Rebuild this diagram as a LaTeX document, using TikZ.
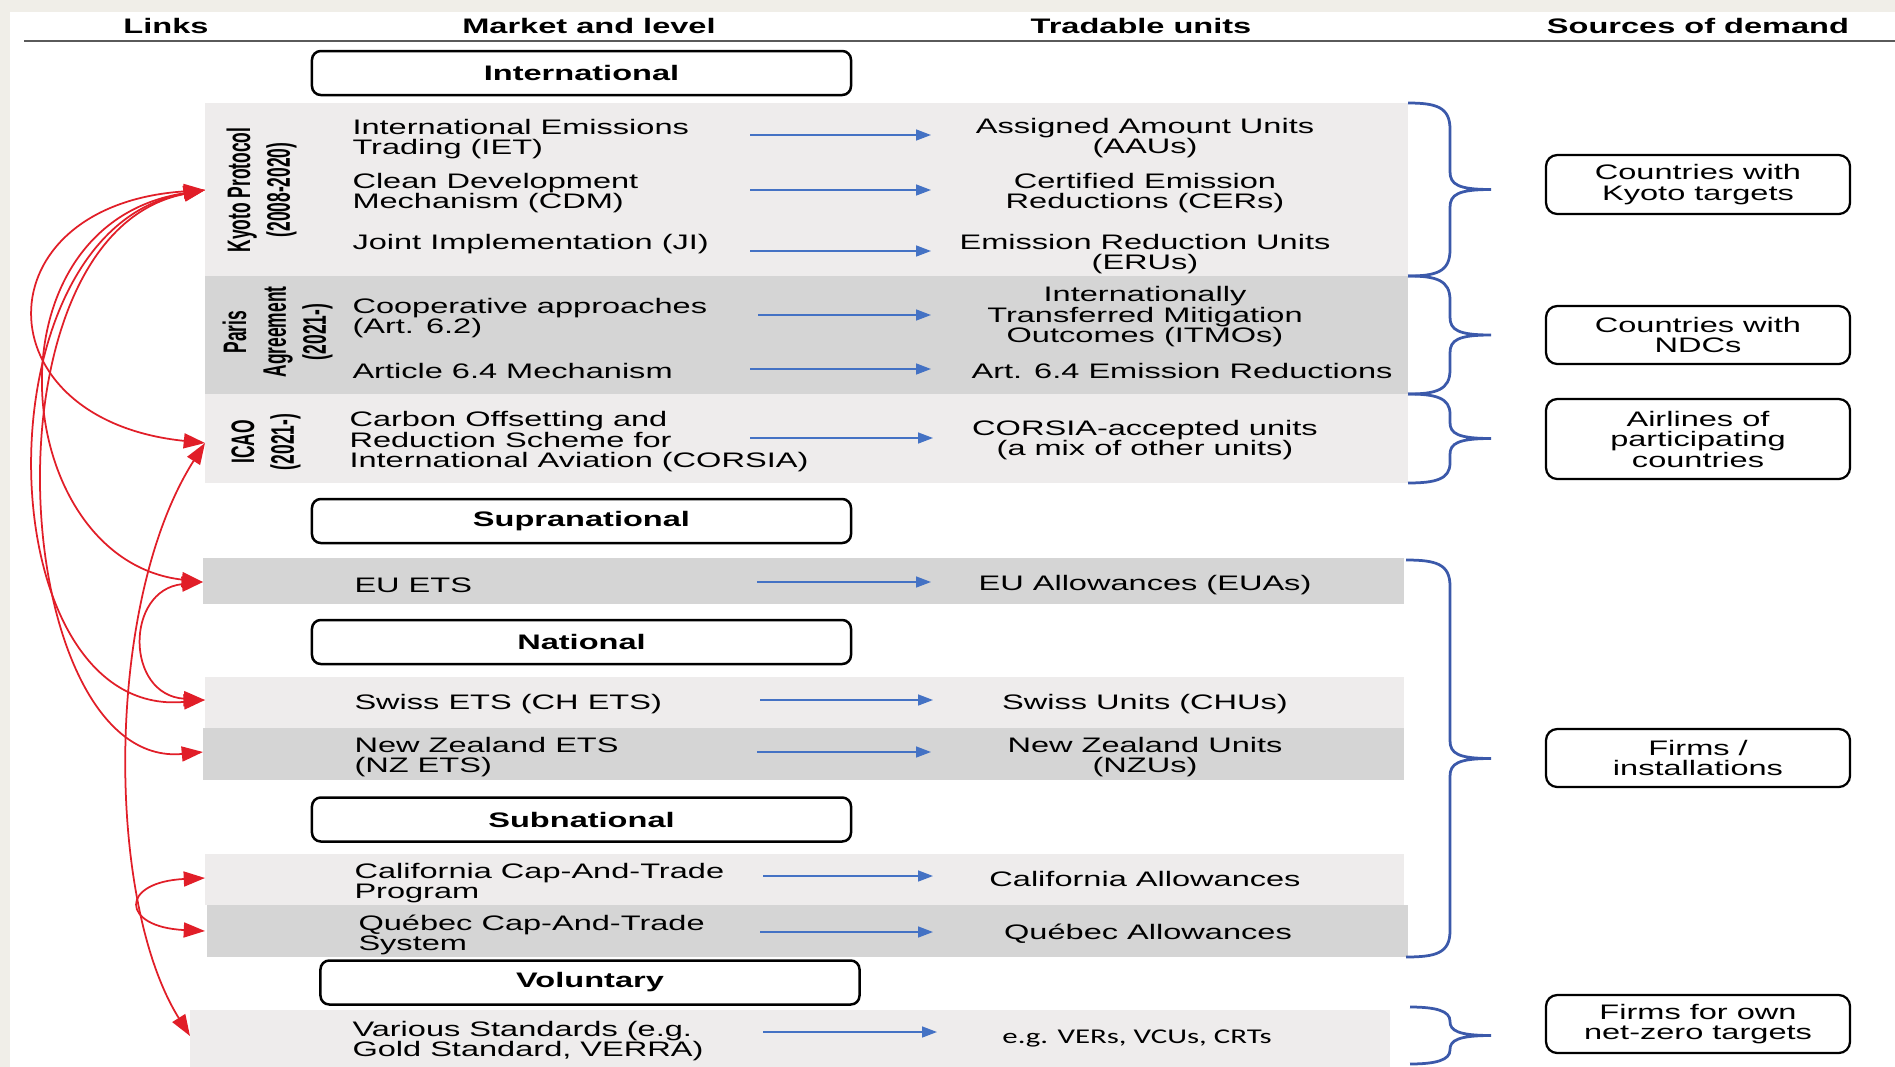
\documentclass[tikz,border=0pt]{standalone}
\usepackage{fontspec}
\setmainfont{Liberation Sans}[FakeStretch=1.55]
\newfontfamily\rotfont{Liberation Sans}[FakeStretch=0.83]
\newfontfamily\califont{Carlito}[FakeStretch=1.47]
\usetikzlibrary{arrows.meta}
\definecolor{beige}{RGB}{240,238,232}
\definecolor{bandlight}{RGB}{238,236,236}
\definecolor{banddark}{RGB}{213,213,213}
\definecolor{arrblue}{RGB}{68,114,196}
\definecolor{brblue}{RGB}{59,89,170}
\definecolor{linkred}{RGB}{225,30,40}
\definecolor{rulegray}{RGB}{90,90,90}
% brace drawn by hand: #1 top y, #2 bottom y, #3 end radius, #4 tip radius, #5 left x
\newcommand\mybrace[5]{%
  \pgfmathsetmacro\bym{(#1+#2)/2}%
  \draw[brc] (#5,#1) .. controls (1436,#1) and (1450,#1+4) .. (1450,#1+#3)
    -- (1450,\bym-#4) .. controls (1450,\bym-5) and (1458,\bym) .. (1491,\bym)
    .. controls (1458,\bym) and (1450,\bym+5) .. (1450,\bym+#4)
    -- (1450,#2-#3) .. controls (1450,#2-4) and (1436,#2) .. (#5,#2);}
\begin{document}
\begin{tikzpicture}[x=0.4pt,y=-0.4pt,
  every node/.style={font=\fontsize{8.4}{8.2}\selectfont, inner sep=0pt},
  hdr/.style={font=\fontsize{8.4}{8.2}\selectfont\bfseries, yshift=-0.6pt},
  lt/.style={anchor=west, align=left, yshift=-0.8pt},
  rt/.style={align=center, yshift=-0.8pt},
  lvl/.style={draw=black, line width=1pt, rounded corners=3.5pt, fill=white, minimum width=215.6pt, minimum height=17.6pt, font=\fontsize{8.4}{8.2}\selectfont\bfseries},
  src/.style={draw=black, line width=0.9pt, rounded corners=4.5pt, fill=white, minimum width=121.6pt, align=center},
  rotlab/.style={font=\rotfont\bfseries\fontsize{8.4}{10.3}\selectfont},
  barrow/.style={arrblue, line width=0.6pt, -{Triangle[length=6pt,width=4.4pt]}},
  link/.style={linkred, line width=0.7pt, {Triangle[length=8.5pt,width=6pt]}-{Triangle[length=8.5pt,width=6pt]}},
  brc/.style={brblue, line width=1.1pt},
]
\useasboundingbox (0,0) rectangle (1895,1067);
% background
\fill[beige] (0,0) rectangle (1895,1067);
\fill[white] (10,12) rectangle (1895,1067);

% headers
\node[hdr] (hlinks) at (166,24) {Links};
\node[hdr] (hmarket) at (589,24) {Market and level};
\node[hdr] (hunits) at (1141,24) {Tradable units};
\node[hdr] (hdemand) at (1698,24) {Sources of demand};
\coordinate (rulel) at (24,41);
\coordinate (ruler) at (1895,41);
\draw[rulegray, line width=1pt] (rulel) -- (ruler);

% bands
\fill[bandlight] (205,103) rectangle (1408,276);
\fill[banddark]  (205,276) rectangle (1408,394);
\fill[bandlight] (205,394) rectangle (1408,483);
\fill[banddark]  (203,558) rectangle (1404,604);
\fill[bandlight] (205,677) rectangle (1404,728);
\fill[banddark]  (203,728) rectangle (1404,780);
\fill[bandlight] (205,854) rectangle (1404,905);
\fill[banddark]  (207,905) rectangle (1408,957);
\fill[bandlight] (190,1010) rectangle (1390,1067);

% level boxes
\node[lvl] (intl) at (581.5,73) {International};
\node[lvl] (supra) at (581.5,521) {Supranational};
\node[lvl] (natl) at (581.5,642) {National};
\node[lvl] (subn) at (581.5,819.5) {Subnational};
\node[lvl] (volu) at (590,982.5) {Voluntary};

% rotated group labels
\node[rotlab] (kyotolab) at (262,190) {\scalebox{1.55}[1]{\rotatebox{90}{\begin{tabular}{@{}c@{}}Kyoto Protocol\\(2008-2020)\end{tabular}}}};
\node[rotlab] (parislab) at (278,332) {\scalebox{1.55}[1]{\rotatebox{90}{\begin{tabular}{@{}c@{}}Paris\\Agreement\\(2021-)\end{tabular}}}};
\node[rotlab] (icaolab) at (266,442) {\scalebox{1.55}[1]{\rotatebox{90}{\begin{tabular}{@{}c@{}}ICAO\\(2021-)\end{tabular}}}};

% market texts
\node[lt] (iet) at (352,137) {International Emissions\\Trading (IET)};
\node[lt] (cdm) at (352,191) {Clean Development\\Mechanism (CDM)};
\node[lt] (ji) at (352,242) {Joint Implementation (JI)};
\node[lt] (coop) at (352,316) {Cooperative approaches\\(Art. 6.2)};
\node[lt] (a64) at (352,369) {Article 6.4 Mechanism};
\node[lt] (corsia) at (349,440) {Carbon Offsetting and\\Reduction Scheme for\\International Aviation (CORSIA)};
\node[lt] (euets) at (354,583) {EU ETS};
\node[lt] (chets) at (354,702) {Swiss ETS (CH ETS)};
\node[lt] (nzets) at (354,755) {New Zealand ETS\\(NZ ETS)};
\node[lt] (caets) at (354,881) {California Cap-And-Trade\\Program};
\node[lt] (qcets) at (358,933) {Québec Cap-And-Trade\\System};
\node[lt] (vstd) at (352,1039) {Various Standards (e.g.\\Gold Standard, VERRA)};

% unit texts
\node[rt] (aau) at (1145,136) {Assigned Amount Units\\(AAUs)};
\node[rt] (cer) at (1145,191) {Certified Emission\\Reductions (CERs)};
\node[rt] (eru) at (1145,252) {Emission Reduction Units\\(ERUs)};
\node[rt] (itmo) at (1145,315) {Internationally\\Transferred Mitigation\\Outcomes (ITMOs)};
\node[rt] (a64u) at (1182,369) {Art. 6.4 Emission Reductions};
\node[rt] (cau) at (1145,438) {CORSIA-accepted units\\(a mix of other units)};
\node[rt] (eua) at (1145,583) {EU Allowances (EUAs)};
\node[rt] (chu) at (1145,702) {Swiss Units (CHUs)};
\node[rt] (nzu) at (1145,755) {New Zealand Units\\(NZUs)};
\node[rt] (cala) at (1145,877) {California Allowances};
\node[rt] (quea) at (1148,932) {Québec Allowances};
\node[rt, font=\califont\fontsize{8.4}{8.2}\selectfont] (vers) at (1137,1036) {e.g. VERs, VCUs, CRTs};

% blue arrows
\foreach \n/\xa/\xb/\y in {a1/750/931/135, a2/750/931/190, a3/750/931/251, a4/758/931/315, a5/750/931/369, a6/750/933/438, a7/757/931/582, a8/760/933/700, a9/757/931/752, a10/763/933/876, a11/760/933/932, a12/763/937/1032}{
  \coordinate (\n s) at (\xa,\y);
  \coordinate (\n e) at (\xb,\y);
  \draw[barrow] (\n s) -- (\n e);
}

% braces
\mybrace{103}{276}{26}{18}{1408}
\mybrace{276}{394}{24}{18}{1408}
\mybrace{394}{483}{20}{16}{1408}
\mybrace{560}{957}{26}{18}{1406}
\mybrace{1007}{1064}{14}{14}{1410}

% sources of demand
\node[src, minimum height=23.6pt] (s1) at (1698,184.5) {Countries with\\Kyoto targets};
\node[src, minimum height=23.2pt] (s2) at (1698,335) {Countries with\\NDCs};
\node[src, minimum height=32pt] (s3) at (1698,439) {Airlines of\\participating\\countries};
\node[src, minimum height=23.2pt] (s4) at (1698,758) {Firms /\\installations};
\node[src, minimum height=23.2pt] (s5) at (1698,1024) {Firms for own\\net-zero targets};

% red links
\coordinate (kyo) at (205,190);
\coordinate (icao) at (205,443);
\coordinate (eu) at (203,582);
\coordinate (ch) at (205,700);
\coordinate (nz) at (203,752);
\coordinate (cal) at (205,878);
\coordinate (que) at (205,931);
\coordinate (vol) at (190,1036);
\draw[link] (kyo) .. controls (-20,205) and (-20,420) .. (icao);
\draw[link] (kyo) .. controls (-20,225) and (10,560) .. (eu);
\draw[link] (kyo) .. controls (-25,230) and (-15,720) .. (ch);
\draw[link] (kyo) .. controls (-25,235) and (10,770) .. (nz);
\draw[link] (icao) .. controls (105,600) and (105,900) .. (vol);
\draw[link] (eu) .. controls (125,590) and (125,695) .. (ch);
\draw[link] (cal) .. controls (120,882) and (120,927) .. (que);
\end{tikzpicture}
\end{document}
